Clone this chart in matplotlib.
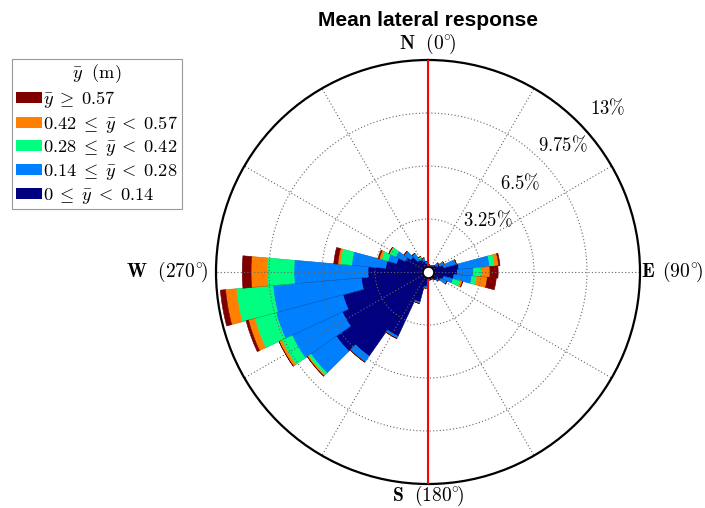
import numpy as np
import matplotlib
matplotlib.use("Agg")
from matplotlib import pyplot as plt
from matplotlib.patches import Patch
from matplotlib.lines import Line2D

plt.rcParams['mathtext.fontset'] = 'cm'
plt.rcParams['font.family'] = 'DejaVu Serif'

# direction sectors, degrees clockwise from north (10 deg each)
directions = np.arange(0, 360, 10)

# frequency (%) per sector for each class of mean lateral response
freq_0_014 = [0.50, 0.45, 0.40, 0.45, 0.50, 0.60, 0.80, 1.00, 1.90, 1.80,
              1.60, 1.00, 0.90, 0.70, 0.60, 0.50, 0.50, 0.50, 0.60, 0.90,
              1.90, 4.35, 6.30, 6.87, 5.80, 5.40, 4.10, 3.68, 2.60, 2.00,
              1.55, 1.30, 0.90, 0.85, 0.70, 0.55]
freq_014_028 = [0.00, 0.00, 0.00, 0.00, 0.00, 0.20, 0.30, 0.80, 1.90, 1.00,
                1.10, 0.60, 0.40, 0.10, 0.00, 0.00, 0.00, 0.00, 0.00, 0.10,
                0.10, 0.15, 0.45, 1.90, 3.40, 4.25, 5.45, 4.54, 2.10, 0.55,
                0.65, 0.50, 0.50, 0.10, 0.20, 0.10]
freq_028_042 = [0.00, 0.00, 0.00, 0.00, 0.00, 0.00, 0.00, 0.00, 0.30, 0.50,
                0.30, 0.45, 0.00, 0.00, 0.00, 0.00, 0.00, 0.00, 0.00, 0.00,
                0.00, 0.00, 0.00, 0.18, 0.70, 1.35, 2.25, 1.63, 0.70, 0.40,
                0.40, 0.00, 0.00, 0.10, 0.00, 0.00]
freq_042_057 = [0.00, 0.00, 0.00, 0.00, 0.00, 0.00, 0.00, 0.00, 0.25, 0.50,
                0.65, 0.15, 0.00, 0.00, 0.00, 0.00, 0.00, 0.00, 0.00, 0.00,
                0.00, 0.00, 0.00, 0.09, 0.18, 0.40, 0.66, 1.00, 0.15, 0.15,
                0.05, 0.00, 0.00, 0.00, 0.00, 0.00]
freq_057_up = [0.00, 0.00, 0.00, 0.00, 0.00, 0.00, 0.00, 0.00, 0.08, 0.50,
               0.55, 0.00, 0.00, 0.00, 0.00, 0.00, 0.00, 0.00, 0.00, 0.00,
               0.00, 0.00, 0.00, 0.00, 0.00, 0.15, 0.32, 0.54, 0.25, 0.07,
               0.00, 0.00, 0.00, 0.00, 0.00, 0.00]

class_labels = [r'$0 \;\leq\; \bar{y} \;<\; 0.14$',
                r'$0.14 \;\leq\; \bar{y} \;<\; 0.28$',
                r'$0.28 \;\leq\; \bar{y} \;<\; 0.42$',
                r'$0.42 \;\leq\; \bar{y} \;<\; 0.57$',
                r'$\bar{y} \;\geq\; 0.57$']
class_colors = ['#000080', '#0080ff', '#00ff80', '#ff8000', '#800000']

ring_values = [3.25, 6.5, 9.75, 13]
ring_labels = [r'$3.25\%$', r'$6.5\%$', r'$9.75\%$', r'$13\%$']

fig = plt.figure(figsize=(7.05, 5.08), dpi=100)
ax = fig.add_axes([216 / 705, 24 / 508, 424 / 705, 424 / 508], projection='polar')
ax.set_theta_zero_location('N')
ax.set_theta_direction(-1)

theta = np.deg2rad(directions)
width = np.deg2rad(10)
bottom = np.zeros(len(directions))
for vals, c in zip([freq_0_014, freq_014_028, freq_028_042, freq_042_057, freq_057_up],
                   class_colors):
    vals = np.array(vals)
    ax.bar(theta, vals, width=width, bottom=bottom, color=c,
           edgecolor=c, linewidth=0.4, zorder=2)
    bottom += vals
# thin outlines separating the sectors
ax.bar(theta, bottom, width=width, facecolor='none',
       edgecolor='#00000040', linewidth=0.3, zorder=3)

ax.set_ylim(0, 13)
ax.set_rgrids(ring_values, labels=[''] * 4)
ax.set_thetagrids(np.arange(0, 360, 30), labels=[''] * 12)
ax.set_axisbelow(False)
ax.grid(True, linestyle=(0, (1, 2)), color='#666666', linewidth=0.8)
ax.spines['polar'].set_linewidth(1.6)
ax.spines['polar'].set_zorder(5)

# north-south reference line and centre marker
ax.plot([0, 0], [0, 13], color='red', lw=1.5, zorder=6)
ax.plot([np.pi, np.pi], [0, 13], color='red', lw=1.5, zorder=6)
ax.plot([0], [0], 'o', ms=8, mfc='white', mec='black', mew=1.2, zorder=7, clip_on=False)

# radial labels
for rv, lab in zip(ring_values, ring_labels):
    dx = 9 if rv == 13 else -2
    ax.annotate(lab, xy=(np.deg2rad(45), rv), xytext=(dx, 3), textcoords='offset points',
                ha='left', va='bottom', fontsize=13.5)

# compass labels
card = dict(fontsize=14)
ax.annotate(r'$\mathbf{N}\ \ (0^{\circ}\!)$', xy=(0, 13), xytext=(0, 3),
            textcoords='offset points', ha='center', va='bottom', **card)
ax.annotate(r'$\mathbf{E}\ \,(90^{\circ}\!)$', xy=(np.pi / 2, 13), xytext=(1, 0),
            textcoords='offset points', ha='left', va='center', **card)
ax.annotate(r'$\mathbf{S}\ \ (180^{\circ}\!)$', xy=(np.pi, 13), xytext=(0, 0),
            textcoords='offset points', ha='center', va='top', **card)
ax.annotate(r'$\mathbf{W}\ \ (270^{\circ}\!)$', xy=(3 * np.pi / 2, 13), xytext=(-6, 0),
            textcoords='offset points', ha='right', va='center', **card)

fig.text(428 / 705, 1 - 20 / 508, 'Mean lateral response', ha='center', va='center',
         fontsize=15, fontweight='bold', family='Liberation Sans')

# legend, highest class on top
handles = [Patch(facecolor=c, edgecolor='none') for c in class_colors[::-1]]
leg = fig.legend(handles, class_labels[::-1], title=r'$\bar{y}\ \ (\mathrm{m})$',
                 loc='upper left', bbox_to_anchor=(12 / 705, 1 - 59 / 508),
                 borderaxespad=0, fontsize=13.2, title_fontsize=13.2,
                 handlelength=1.45, handleheight=0.55, handletextpad=0.05,
                 labelspacing=0.2, borderpad=0.2, fancybox=False, framealpha=1,
                 edgecolor='#999999')
leg.get_frame().set_linewidth(0.8)

fig.canvas.draw()
r = fig.canvas.get_renderer()
fb = leg.get_frame().get_window_extent(r)
tb = leg.get_title().get_window_extent(r)
inv = fig.transFigure.inverted()
y_sep = tb.y0 - 2
(x0, y0), (x1, _) = inv.transform([(fb.x0, y_sep), (fb.x1, y_sep)])
fig.add_artist(Line2D([x0, x1], [y0, y0], transform=fig.transFigure,
                      color='#999999', lw=0.8))

fig.savefig('out.png', dpi=100)
